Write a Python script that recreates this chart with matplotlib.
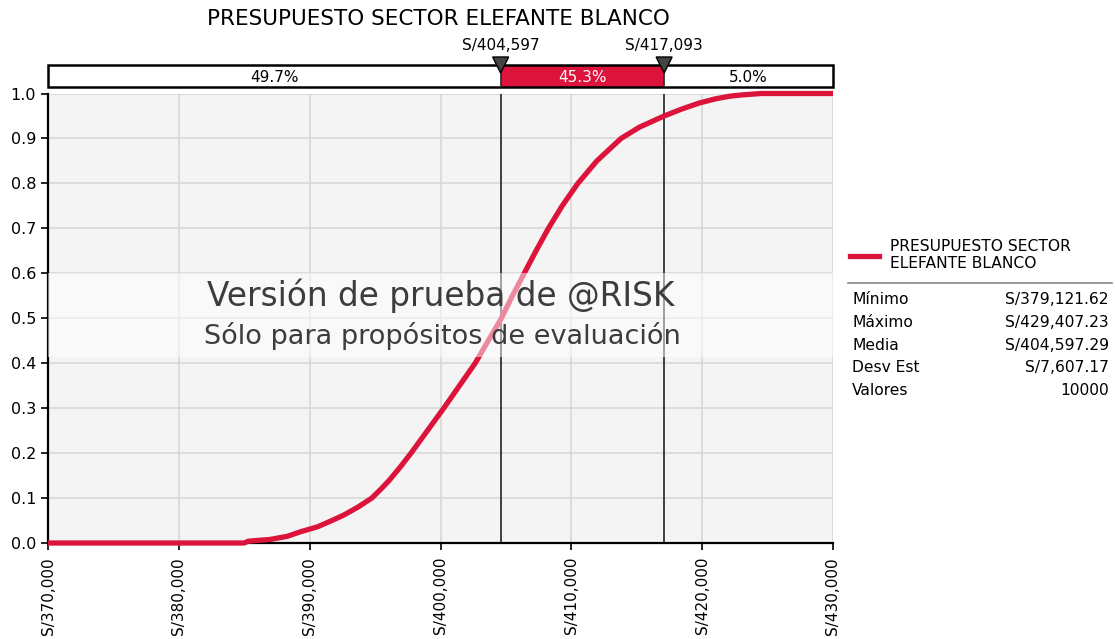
import matplotlib
matplotlib.use("Agg")
import matplotlib.pyplot as plt
from matplotlib.patches import Rectangle, Polygon

# ---------------- data ----------------
title = "PRESUPUESTO SECTOR ELEFANTE BLANCO"
cdf_x = [370000, 385000, 385300, 387000, 388300, 389300, 390600, 391700, 392600,
         393700, 394750, 395450, 396100, 396950, 397750, 399000, 400250, 401450,
         402650, 403650, 404597, 405500, 406400, 407300, 408250, 409300, 410500,
         411950, 413800, 415200, 417093, 418400, 419800, 421000, 422100, 423100,
         424500, 430000]
cdf_p = [0.0, 0.0, 0.004, 0.008, 0.015, 0.025, 0.036, 0.050, 0.062,
         0.080, 0.100, 0.120, 0.140, 0.170, 0.200, 0.250, 0.300, 0.350,
         0.400, 0.450, 0.497, 0.550, 0.600, 0.650, 0.700, 0.750, 0.800,
         0.850, 0.900, 0.925, 0.950, 0.965, 0.979, 0.988, 0.994, 0.997,
         1.000, 1.000]
marker_values = [404597, 417093]
marker_labels = ["S/404,597", "S/417,093"]
segment_pcts = ["49.7%", "45.3%", "5.0%"]
x_ticks = [370000, 380000, 390000, 400000, 410000, 420000, 430000]
y_ticks = [0.0, 0.1, 0.2, 0.3, 0.4, 0.5, 0.6, 0.7, 0.8, 0.9, 1.0]
stat_names = ["Mínimo", "Máximo", "Media", "Desv Est", "Valores"]
stat_values = ["S/379,121.62", "S/429,407.23", "S/404,597.29", "S/7,607.17", "10000"]
legend_label = "PRESUPUESTO SECTOR\nELEFANTE BLANCO"
watermark1 = "Versión de prueba de @RISK"
watermark2 = "Sólo para propósitos de evaluación"

RED = "#DC143C"
W, H = 1115, 639
plt.rcParams['font.family'] = ['DejaVu Sans']

fig = plt.figure(figsize=(W / 100, H / 100), dpi=100)

def fx(px):
    return px / W

def fy(py):
    return 1 - py / H

# main axes
L, R, T, B = 48, 833, 93.5, 543
ax = fig.add_axes([fx(L), fy(B), fx(R - L), fy(T) - fy(B)])
ax.set_facecolor("#f4f4f4")
ax.set_xlim(x_ticks[0], x_ticks[-1])
ax.set_ylim(0, 1.0)
ax.set_xticks(x_ticks)
ax.set_xticklabels([f"S/{v:,}" for v in x_ticks], rotation=90, fontsize=11)
ax.set_yticks(y_ticks)
ax.set_yticklabels([f"{v:.1f}" for v in y_ticks], fontsize=11.5)
ax.grid(True, color="#d8d8d8", linewidth=1.2, zorder=0)
ax.set_axisbelow(True)
for s in ["top", "right"]:
    ax.spines[s].set_visible(False)
for s in ["left", "bottom"]:
    ax.spines[s].set_linewidth(1.6)
    ax.spines[s].set_color("black")
ax.tick_params(axis='both', length=5, width=1.2, color="black", labelcolor="black")
ax.tick_params(axis='x', pad=5)

for mv in marker_values:
    ax.axvline(mv, color="#333333", linewidth=1.3, zorder=2)

ax.plot(cdf_x, cdf_p, color=RED, linewidth=3.8, solid_capstyle='butt',
        solid_joinstyle='round', zorder=3, clip_on=False)

# watermark band
ax.add_patch(Rectangle((0, (B - 356.5) / (B - T)), 1, (356.5 - 272.5) / (B - T),
                       transform=ax.transAxes, facecolor="white", alpha=0.5,
                       edgecolor="none", zorder=4))
fig.text(fx(441), fy(296), watermark1, ha='center', va='center', fontsize=23.6,
         color="#3c3c3c", zorder=10)
fig.text(fx(442), fy(336), watermark2, ha='center', va='center', fontsize=19.5,
         color="#3c3c3c", zorder=10)

# top bar
bax = fig.add_axes([fx(L), fy(87), fx(R - L), fy(65) - fy(87)])
bax.set_xlim(x_ticks[0], x_ticks[-1])
bax.set_ylim(0, 1)
bax.axis('off')
edges = [x_ticks[0]] + marker_values + [x_ticks[-1]]
fills = ["white", RED, "white"]
tcols = ["black", "white", "black"]
for i in range(3):
    bax.add_patch(Rectangle((edges[i], 0), edges[i + 1] - edges[i], 1,
                            facecolor=fills[i], edgecolor="none"))
    bax.text((edges[i] + edges[i + 1]) / 2, 0.45, segment_pcts[i], ha='center',
             va='center', fontsize=11, color=tcols[i])
bax.add_patch(Rectangle((edges[0], 0), edges[-1] - edges[0], 1, facecolor="none",
                        edgecolor="black", linewidth=1.8, clip_on=False))
for mv in marker_values:
    bax.axvline(mv, color="#333333", linewidth=1.3)

# marker triangles and labels
for mv, lab in zip(marker_values, marker_labels):
    xp = ax.transData.transform((mv, 0))[0]
    tri = Polygon([[fx(xp - 8), fy(57)], [fx(xp + 8), fy(57)], [fx(xp), fy(73)]],
                  closed=True, transform=fig.transFigure, facecolor="#444444",
                  edgecolor="black", linewidth=1, zorder=20)
    fig.patches.append(tri)
    fig.text(fx(xp), fy(45), lab, ha='center', va='center', fontsize=11)

# title
fig.text(fx(438), fy(19), title, ha='center', va='center', fontsize=15.5)

# legend & stats
fig.add_artist(plt.Line2D([fx(850), fx(879)], [fy(256), fy(256)], color=RED, linewidth=3.8,
                          transform=fig.transFigure))
fig.text(fx(890), fy(255), legend_label, ha='left', va='center', fontsize=11.2,
         linespacing=1.15)
fig.add_artist(plt.Line2D([fx(848), fx(1112)], [fy(283), fy(283)], color="#888888",
                          linewidth=1.2, transform=fig.transFigure))
for i, (n, v) in enumerate(zip(stat_names, stat_values)):
    yy = fy(300 + i * 22.6)
    fig.text(fx(852), yy, n, ha='left', va='center', fontsize=11.2)
    fig.text(fx(1109), yy, v, ha='right', va='center', fontsize=11.2)

fig.savefig("out.png", dpi=100, facecolor="white")
